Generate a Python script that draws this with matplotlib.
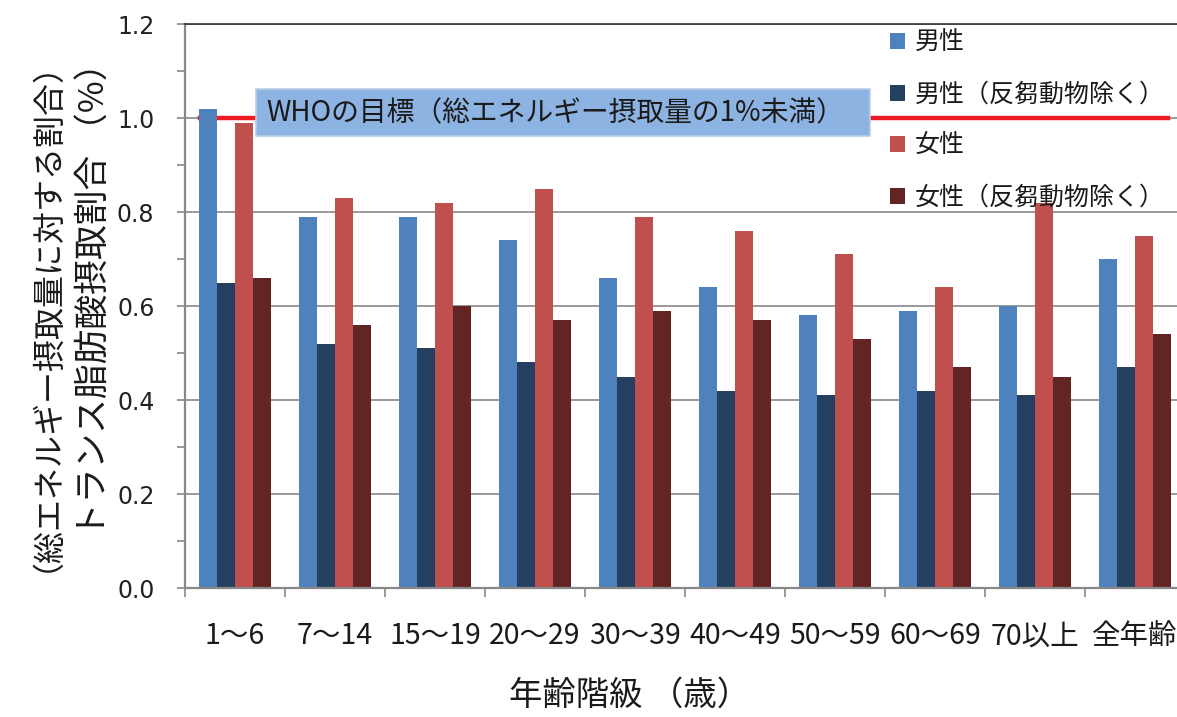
import matplotlib
matplotlib.use("Agg")
import matplotlib.pyplot as plt
import numpy as np
from matplotlib.patches import Rectangle

plt.rcParams['font.family'] = ['Noto Sans CJK JP', 'DejaVu Sans']

categories = ["1〜6", "7〜14", "15〜19", "20〜29", "30〜39", "40〜49",
              "50〜59", "60〜69", "70以上", "全年齢"]
male = [1.02, 0.79, 0.79, 0.74, 0.66, 0.64, 0.58, 0.59, 0.60, 0.70]
male_excl = [0.65, 0.52, 0.51, 0.48, 0.45, 0.42, 0.41, 0.42, 0.41, 0.47]
female = [0.99, 0.83, 0.82, 0.85, 0.79, 0.76, 0.71, 0.64, 0.82, 0.75]
female_excl = [0.66, 0.56, 0.60, 0.57, 0.59, 0.57, 0.53, 0.47, 0.45, 0.54]
series_names = ["男性", "男性（反芻動物除く）", "女性", "女性（反芻動物除く）"]
colors = ["#4F81BD", "#243F60", "#C0504D", "#632523"]
who_target = 1.0
who_label = "WHOの目標（総エネルギー摂取量の1%未満）"

W, H = 1177, 717
fig = plt.figure(figsize=(W / 100, H / 100), dpi=100)
ax = fig.add_axes([185 / W, (H - 588) / H, 1000 / W, 564 / H])

x = np.arange(len(categories))
bw = 0.18
offsets = [-1.5 * bw, -0.5 * bw, 0.5 * bw, 1.5 * bw]
handles = []
for vals, off, col, name in zip([male, male_excl, female, female_excl], offsets, colors, series_names):
    b = ax.bar(x + off, vals, width=bw, color=col, zorder=2, label=name)
    handles.append(b)

ax.set_xlim(-0.5, len(categories) - 0.5)
ax.set_ylim(0, 1.2)

grid_col = "#888888"
ax.set_yticks(np.arange(0, 1.21, 0.2))
ax.set_yticklabels([f"{v:.1f}" for v in np.arange(0, 1.21, 0.2)],
                   fontsize=17, color="#222222", family="DejaVu Sans")
ax.set_yticks(np.arange(0.1, 1.2, 0.2), minor=True)
ax.yaxis.grid(True, which='major', color=grid_col, linewidth=1.2, zorder=0)
ax.set_axisbelow(True)

ax.set_xticks(np.arange(-0.5, len(categories), 1.0))
ax.set_xticklabels([])
ax.set_xticks(x, minor=True)
ax.set_xticklabels(categories, minor=True, fontsize=20.5, color="#1a1a1a")
ax.tick_params(axis='x', which='minor', length=0, pad=24)
ax.tick_params(axis='x', which='major', length=6.5, width=1.2, color=grid_col, direction='out')
ax.tick_params(axis='y', which='both', length=6, width=1.2, color=grid_col, direction='out', pad=16)

for s in ['left', 'bottom']:
    ax.spines[s].set_color(grid_col)
    ax.spines[s].set_linewidth(1.6)
ax.spines['right'].set_visible(False)
ax.spines['top'].set_color("#333333")
ax.spines['top'].set_linewidth(1.2)

# WHO target line
ax.axhline(who_target, xmin=15 / 1000, xmax=983 / 1000, color="#ED1C24", linewidth=3.2, zorder=1.5)

# WHO label box
fig.patches.append(Rectangle((256 / W, 1 - 136 / H), 614 / W, 47 / H, transform=fig.transFigure,
                             facecolor="#8DB3E2", edgecolor="#B9CDE5", linewidth=1.2, zorder=5))
fig.text(266 / W, 1 - 113 / H, who_label, fontsize=20, color="#1a1a1a", va='center', ha='left', zorder=6)

# legend
leg = ax.legend(handles=handles, labels=series_names, loc='upper left',
                bbox_to_anchor=(880 / W, 1 - 20 / H), bbox_transform=fig.transFigure,
                frameon=False, fontsize=18, handlelength=0.6, handleheight=0.6,
                handletextpad=0.4, labelspacing=1.02, borderaxespad=0)
for t in leg.get_texts():
    t.set_color("#1a1a1a")

# axis titles
fig.text(30 / W, 1 - 300 / H, "（総エネルギー摂取量に対する割合）", rotation=90, fontsize=23,
         va='center', ha='center', color="#1a1a1a")
fig.text(95 / W, 1 - 291 / H, "トランス脂肪酸摂取割合 （%）", rotation=90, fontsize=25,
         va='center', ha='center', color="#1a1a1a")
fig.text(630 / W, 1 - 695 / H, "年齢階級 （歳）", fontsize=24, va='center', ha='center', color="#1a1a1a")

fig.savefig("out.png", dpi=100)
